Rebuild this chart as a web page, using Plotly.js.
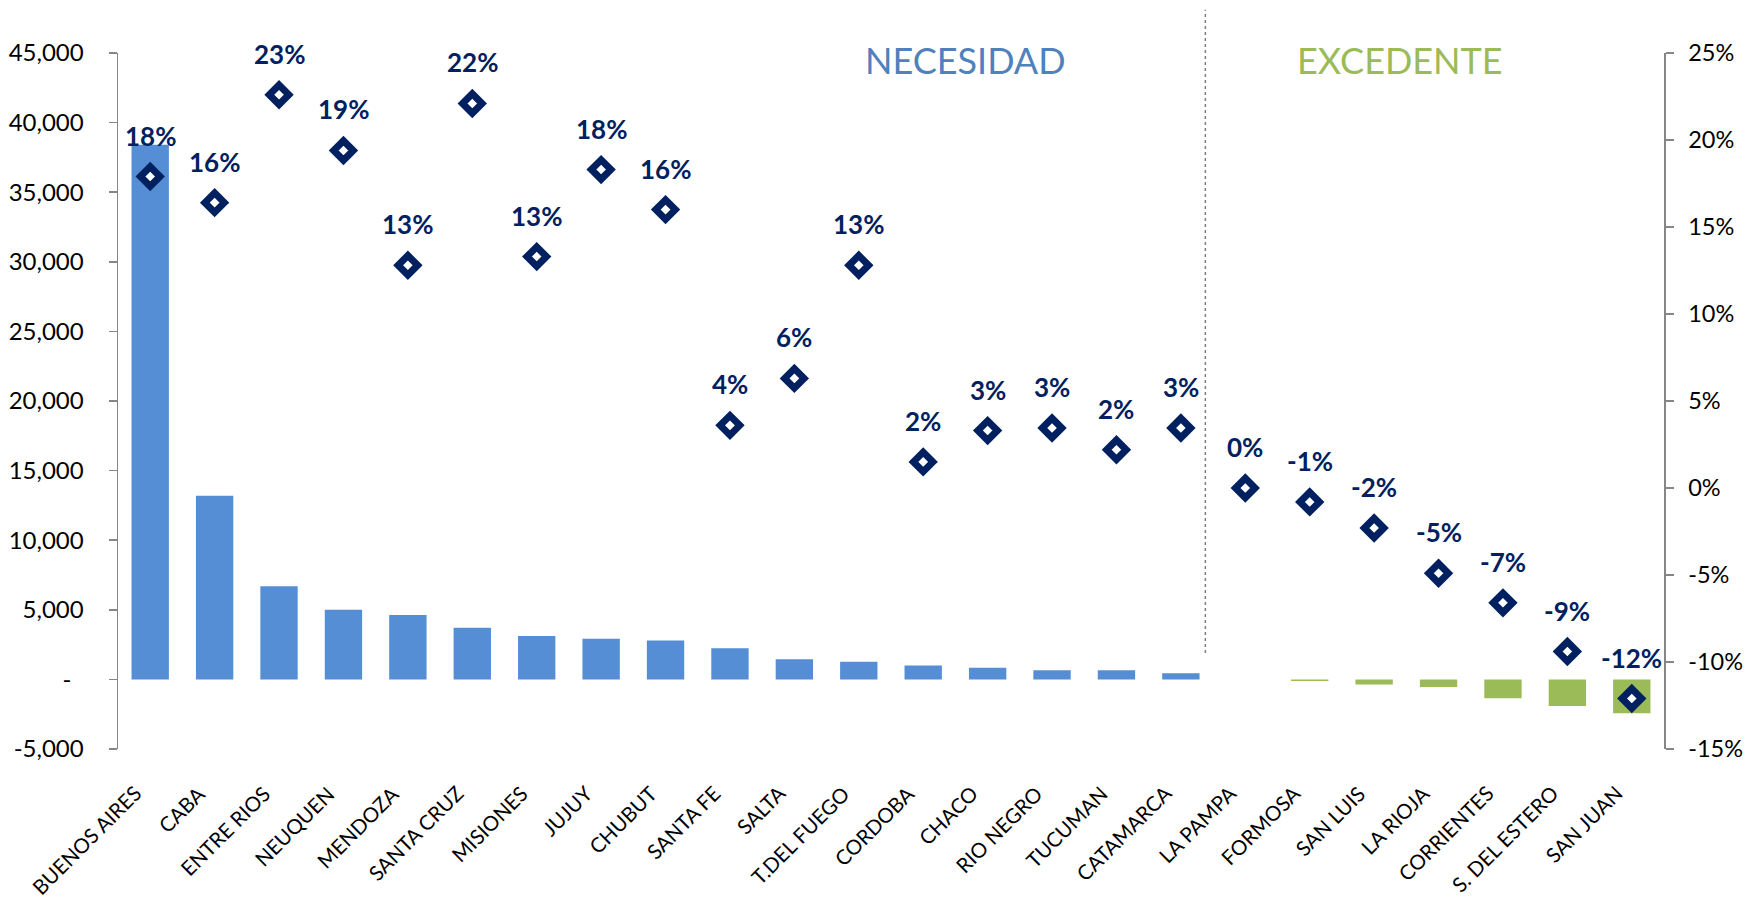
<!DOCTYPE html>
<html>
<head>
<meta charset="utf-8">
<script src="https://cdn.plot.ly/plotly-3.0.1.min.js"></script>
<style>
  html, body { margin: 0; padding: 0; background: #fff; }
  #plot { width: 1745px; height: 900px; }
</style>
</head>
<body>
<div id="plot"></div>
<script>
// Datos
const provincias = ['BUENOS AIRES', 'CABA', 'ENTRE RIOS', 'NEUQUEN', 'MENDOZA', 'SANTA CRUZ',
  'MISIONES', 'JUJUY', 'CHUBUT', 'SANTA FE', 'SALTA', 'T.DEL FUEGO', 'CORDOBA', 'CHACO',
  'RIO NEGRO', 'TUCUMAN', 'CATAMARCA', 'LA PAMPA', 'FORMOSA', 'SAN LUIS', 'LA RIOJA',
  'CORRIENTES', 'S. DEL ESTERO', 'SAN JUAN'];
const saldo = [38400, 13200, 6700, 5000, 4620, 3710, 3110, 2920, 2800, 2230, 1440, 1270,
  1000, 840, 650, 650, 450, 0, -120, -360, -550, -1360, -1910, -2440];
const porcentaje = [17.9, 16.4, 22.6, 19.4, 12.8, 22.1, 13.3, 18.3, 16.0, 3.6, 6.3, 12.8,
  1.5, 3.3, 3.45, 2.2, 3.45, 0, -0.8, -2.3, -4.9, -6.6, -9.4, -12.1];

const ejeIzqValores = [-5000, 0, 5000, 10000, 15000, 20000, 25000, 30000, 35000, 40000, 45000];
const ejeIzqTextos = ['-5,000', '-\u00a0\u00a0', '5,000', '10,000', '15,000', '20,000',
  '25,000', '30,000', '35,000', '40,000', '45,000'];
const ejeDerValores = [-15, -10, -5, 0, 5, 10, 15, 20, 25];
const ejeDerTextos = ['-15%', '-10%', '-5%', '0%', '5%', '10%', '15%', '20%', '25%'];

const azul = '#558ED5';
const verde = '#9BBB59';
const marino = '#002060';
const gris = '#868686';

const idx = provincias.map((_, i) => i);

const barras = {
  x: idx,
  y: saldo,
  type: 'bar',
  width: 0.58,
  marker: { color: saldo.map(v => v < 0 ? verde : azul) },
  hoverinfo: 'x+y'
};

const puntos = {
  x: idx,
  y: porcentaje,
  yaxis: 'y2',
  type: 'scatter',
  mode: 'markers',
  marker: { symbol: 'diamond', size: 15, color: '#ffffff', line: { color: marino, width: 7 } },
  cliponaxis: false
};

// porcentajes sobre cada rombo
const etiquetas = porcentaje.map((p, i) => ({
  x: i, y: p, xref: 'x', yref: 'y2',
  text: '<b>' + (Math.round(p) === 0 ? 0 : Math.round(p)) + '%</b>',
  showarrow: false, xanchor: 'center', yanchor: 'bottom', yshift: 23,
  font: { family: 'Lato', size: 26, color: marino }
}));

// nombres de provincia en diagonal, bajo el area del grafico
const nombres = provincias.map((n, i) => ({
  x: i, y: -0.042, xref: 'x', yref: 'paper',
  text: n, textangle: -45,
  showarrow: false, xanchor: 'right', yanchor: 'top', xshift: -2,
  font: { family: 'Lato', size: 20.5, color: '#000' }
}));

const tickFont = { family: 'Lato', size: 24, color: '#000' };

const layout = {
  width: 1745,
  height: 900,
  margin: { l: 118, r: 81, t: 53, b: 151 },
  paper_bgcolor: '#fff',
  plot_bgcolor: '#fff',
  showlegend: false,
  font: { family: 'Lato, sans-serif' },
  xaxis: {
    range: [-0.5, provincias.length - 0.5],
    showticklabels: false,
    ticks: '',
    showline: false,
    showgrid: false,
    zeroline: false
  },
  xaxis2: {
    overlaying: 'x',
    anchor: 'free',
    position: (0 - (-5000)) / 50000,
    range: [-0.5, provincias.length - 0.5],
    tickvals: idx.slice(1).map(i => i - 0.5),
    showticklabels: false,
    ticks: 'outside',
    ticklen: 8,
    tickwidth: 1.5,
    tickcolor: gris,
    showline: true,
    linecolor: gris,
    linewidth: 1.5,
    showgrid: false,
    zeroline: false
  },
  yaxis: {
    range: [-5000, 45000],
    tickvals: ejeIzqValores,
    ticktext: ejeIzqTextos,
    ticks: 'outside',
    ticklen: 8,
    tickwidth: 1.5,
    tickcolor: gris,
    showline: true,
    linecolor: gris,
    linewidth: 1.5,
    showgrid: false,
    zeroline: false,
    ticklabelstandoff: 20,
    tickfont: tickFont
  },
  yaxis2: {
    overlaying: 'y',
    side: 'right',
    range: [-15, 25],
    tickvals: ejeDerValores,
    ticktext: ejeDerTextos,
    ticks: 'outside',
    ticklen: 8,
    tickwidth: 1.5,
    tickcolor: gris,
    showline: true,
    linecolor: gris,
    linewidth: 1.5,
    showgrid: false,
    zeroline: false,
    ticklabelstandoff: 10,
    tickfont: { family: 'Lato', size: 23.5, color: '#000' }
  },
  shapes: [{
    type: 'line', xref: 'x', yref: 'paper',
    x0: 16.38, x1: 16.38, y0: 0.138, y1: 1.062,
    line: { color: '#7F7F7F', width: 1.5, dash: 'dot' }
  }],
  annotations: etiquetas.concat(nombres, [
    { x: 0.548, y: 0.99, xref: 'paper', yref: 'paper', text: 'NECESIDAD', showarrow: false,
      xanchor: 'center', yanchor: 'middle', font: { family: 'Lato', size: 36, color: '#4F81BD' } },
    { x: 0.829, y: 0.99, xref: 'paper', yref: 'paper', text: 'EXCEDENTE', showarrow: false,
      xanchor: 'center', yanchor: 'middle', font: { family: 'Lato', size: 36, color: verde } }
  ])
};

Plotly.newPlot('plot', [barras, puntos], layout, { displayModeBar: false, staticPlot: true });
</script>
</body>
</html>
